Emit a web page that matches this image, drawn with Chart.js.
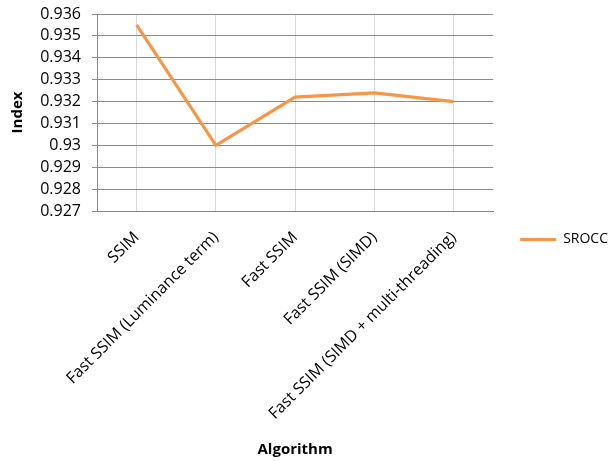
<!DOCTYPE html>
<html>
<head>
<meta charset="utf-8">
<script src="https://cdn.jsdelivr.net/npm/chart.js@4/dist/chart.umd.min.js"></script>
<style>
  html, body { margin: 0; padding: 0; background: #ffffff; }
  #wrap { width: 610px; height: 461px; }
</style>
</head>
<body>
<div id="wrap"><canvas id="c" width="610" height="461"></canvas></div>
<script>
// Algorithms compared and their SROCC index
const categories = [
  'SSIM',
  'Fast SSIM (Luminance term)',
  'Fast SSIM',
  'Fast SSIM (SIMD)',
  'Fast SSIM (SIMD + multi-threading)'
];
const srocc = [0.9355, 0.9300, 0.9322, 0.9324, 0.9320];
const yMin = 0.927;
const yMax = 0.936;
const yStep = 0.001;

const FONT = '"Open Sans", "Liberation Sans", sans-serif';
const TEXT = '#000000';

// Fixed box sizes for the axes so the plot area sits where intended
const Y_AXIS_WIDTH = 97;
const X_AXIS_HEIGHT = 250;
// Legend placement relative to the plot area
const LEGEND_GAP = 27;
const LEGEND_DY = 9;
const LEGEND_PAD = 10;

const legendNudge = {
  id: 'legendNudge',
  afterLayout(chart) {
    const lg = chart.legend;
    if (!lg) return;
    const dx = (chart.chartArea.right + LEGEND_GAP - LEGEND_PAD) - lg.left;
    lg.left += dx; lg.right += dx;
    lg.top += LEGEND_DY; lg.bottom += LEGEND_DY;
  }
};

new Chart(document.getElementById('c'), {
  type: 'line',
  data: {
    labels: categories,
    datasets: [{
      label: 'SROCC',
      data: srocc,
      borderColor: '#F79646',
      backgroundColor: '#F79646',
      borderWidth: 3.2,
      pointRadius: 0,
      tension: 0,
      fill: false
    }]
  },
  plugins: [legendNudge],
  options: {
    responsive: false,
    animation: false,
    devicePixelRatio: 1,
    layout: { padding: { top: 0, right: 9, left: 0, bottom: 0 } },
    plugins: {
      legend: {
        position: 'right',
        labels: {
          usePointStyle: true,
          pointStyle: 'line',
          pointStyleWidth: 36,
          padding: LEGEND_PAD,
          color: TEXT,
          font: { family: FONT, size: 14 }
        }
      },
      tooltip: { enabled: false }
    },
    scales: {
      x: {
        offset: true,
        afterFit(scale) { scale.height = X_AXIS_HEIGHT; },
        grid: {
          offset: false,
          color: '#d9d9d9',
          drawTicks: false
        },
        border: { color: '#868686', width: 1 },
        ticks: {
          color: TEXT,
          font: { family: FONT, size: 16 },
          minRotation: 45,
          maxRotation: 45,
          padding: 17,
          autoSkip: false
        },
        title: {
          display: true,
          text: 'Algorithm',
          color: TEXT,
          font: { family: FONT, size: 15, weight: 'bold' },
          padding: { top: 0, bottom: 2 }
        }
      },
      y: {
        min: yMin,
        max: yMax,
        afterFit(scale) { scale.width = Y_AXIS_WIDTH; },
        grid: {
          color: '#8c8c8c',
          tickLength: 5
        },
        border: { color: '#868686', width: 1 },
        ticks: {
          stepSize: yStep,
          autoSkip: false,
          color: TEXT,
          font: { family: FONT, size: 16, lineHeight: 0.375 },
          padding: 11,
          callback: v => String(+v.toFixed(3))
        },
        title: {
          display: true,
          text: 'Index',
          color: TEXT,
          font: { family: FONT, size: 15, weight: 'bold' },
          padding: { top: 9, bottom: 0 }
        }
      }
    }
  }
});
</script>
</body>
</html>
